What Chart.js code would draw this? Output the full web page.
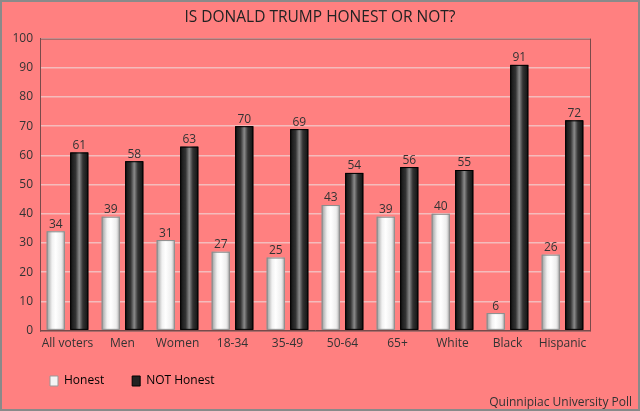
<!DOCTYPE html>
<html>
<head>
<meta charset="utf-8">
<script src="https://cdn.jsdelivr.net/npm/chart.js@4/dist/chart.umd.min.js"></script>
<style>
  html, body { margin: 0; padding: 0; background: #ff8080; }
  #wrap { width: 640px; height: 411px; }
</style>
</head>
<body>
<div id="wrap"><canvas id="c"></canvas></div>
<script>
const groups = ["All voters", "Men", "Women", "18-34", "35-49", "50-64", "65+", "White", "Black", "Hispanic"];
const honest = [34, 39, 31, 27, 25, 43, 39, 40, 6, 26];
const notHonest = [61, 58, 63, 70, 69, 54, 56, 55, 91, 72];
const yTicks = [0, 10, 20, 30, 40, 50, 60, 70, 80, 90, 100];

const FONT = "'Open Sans', sans-serif";

// background + outer frame + plot box + source note
const frame = {
  id: "frame",
  afterLayout(chart) {
    // the original centres the title on the page and starts the legend a bit further in
    chart.titleBlock.left += 19;
    chart.titleBlock.right += 19;
    chart.legend.left += 10;
    chart.legend.top -= 10;
    chart.legend.bottom -= 10;
  },
  beforeDraw(chart) {
    const { ctx, width, height } = chart;
    ctx.save();
    ctx.fillStyle = "#ff8080";
    ctx.fillRect(0, 0, width, height);
    ctx.strokeStyle = "#8a8a8a";
    ctx.lineWidth = 2;
    ctx.strokeRect(1, 1, width - 2, height - 2);
    ctx.restore();
  },
  afterDraw(chart) {
    const { ctx, chartArea: a, width, height } = chart;
    ctx.save();
    ctx.strokeStyle = "#7a4a4a";
    ctx.lineWidth = 1;
    ctx.strokeRect(a.left + 0.5, a.top + 0.5, a.right - a.left, a.bottom - a.top);
    ctx.font = "12px " + FONT;
    ctx.fillStyle = "#333";
    ctx.textAlign = "right";
    ctx.textBaseline = "middle";
    ctx.fillText("Quinnipiac University Poll", width - 8, height - 8);
    ctx.restore();
  },
};

// cylinder-like shading over every bar, plus value on top
const shade = {
  id: "shade",
  afterDatasetsDraw(chart) {
    const { ctx } = chart;
    ctx.save();
    chart.data.datasets.forEach((ds, di) => {
      const meta = chart.getDatasetMeta(di);
      meta.data.forEach((bar, i) => {
        const { x, y, base, width } = bar.getProps(["x", "y", "base", "width"], true);
        const l = x - width / 2;
        const g = ctx.createLinearGradient(l, 0, l + width, 0);
        if (di === 0) {
          g.addColorStop(0, "#9a9a9a");
          g.addColorStop(0.3, "#f2f2f2");
          g.addColorStop(0.5, "#ffffff");
          g.addColorStop(0.8, "#eeeeee");
          g.addColorStop(1, "#b0b0b0");
        } else {
          g.addColorStop(0, "#111111");
          g.addColorStop(0.3, "#333333");
          g.addColorStop(0.5, "#8a8a8a");
          g.addColorStop(0.7, "#333333");
          g.addColorStop(1, "#111111");
        }
        ctx.fillStyle = g;
        ctx.fillRect(l, y, width, base - y);
        ctx.strokeStyle = di === 0 ? "#8a8a8a" : "#000000";
        ctx.lineWidth = 1;
        ctx.strokeRect(l + 0.5, y + 0.5, width - 1, base - y - 1);

        ctx.font = "12px " + FONT;
        ctx.fillStyle = "#333";
        ctx.textAlign = "center";
        ctx.textBaseline = "bottom";
        ctx.fillText(String(ds.data[i]), x, y - 1);
      });
    });
    ctx.restore();
  },
};

new Chart(document.getElementById("c"), {
  type: "bar",
  data: {
    labels: groups,
    datasets: [
      { label: "Honest", data: honest, backgroundColor: "#ffffff", borderColor: "#8a8a8a", borderWidth: 1 },
      { label: "NOT Honest", data: notHonest, backgroundColor: "#1a1a1a", borderColor: "#000000", borderWidth: 1 },
    ],
  },
  options: {
    responsive: true,
    maintainAspectRatio: false,
    animation: false,
    datasets: { bar: { categoryPercentage: 0.855, barPercentage: 0.77 } },
    layout: { padding: { left: 12, right: 50, top: 0, bottom: 4 } },
    scales: {
      x: {
        grid: { display: false, drawTicks: false },
        border: { color: "#7a4a4a" },
        ticks: { color: "#333", font: { family: FONT, size: 12 }, padding: 6, maxRotation: 0, autoSkip: false },
      },
      y: {
        min: 0,
        max: 100,
        afterBuildTicks(s) { s.ticks = yTicks.map((v) => ({ value: v })); },
        grid: { color: "#f4bcbc", lineWidth: 1.5, drawTicks: false },
        border: { color: "#7a4a4a" },
        ticks: { color: "#333", font: { family: FONT, size: 12 }, padding: 7 },
        afterFit(s) { s.width = 28; },
      },
    },
    plugins: {
      title: {
        display: true,
        text: "IS DONALD TRUMP HONEST OR NOT?",
        color: "#222",
        font: { family: FONT, size: 15.5, weight: "normal" },
        padding: { top: 8, bottom: 12 },
      },
      legend: {
        position: "bottom",
        align: "start",
        labels: {
          color: "#333",
          font: { family: FONT, size: 12 },
          boxWidth: 8,
          boxHeight: 10,
          padding: 28,
          generateLabels(chart) {
            return chart.data.datasets.map((ds, i) => ({
              text: ds.label,
              fillStyle: i === 0 ? "#f4f4f4" : "#222",
              strokeStyle: i === 0 ? "#999" : "#000",
              lineWidth: 1,
              datasetIndex: i,
            }));
          },
        },
      },
      tooltip: { enabled: false },
    },
  },
  plugins: [frame, shade],
});
</script>
</body>
</html>
